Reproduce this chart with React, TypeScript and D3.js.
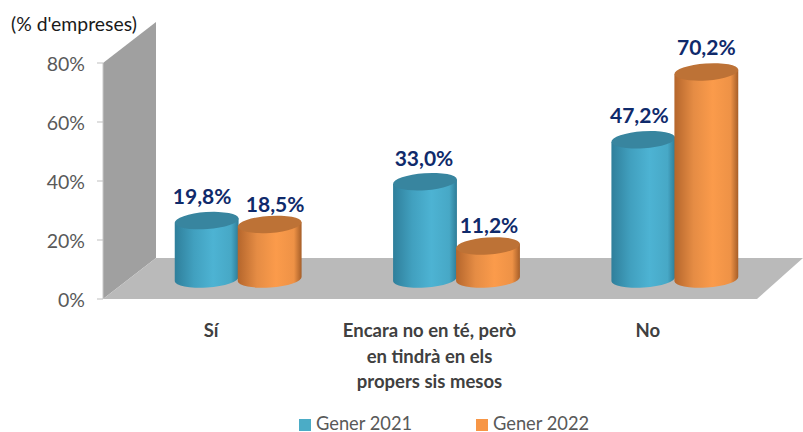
import React from "react";
import * as d3 from "d3";

const categories = ["Sí", "Encara no en té, però en tindrà en els propers sis mesos", "No"];
const categoryLines = [["Sí"], ["Encara no en té, però", "en tindrà en els", "propers sis mesos"], ["No"]];
const gener2021 = [19.8, 33.0, 47.2];
const gener2022 = [18.5, 11.2, 70.2];
const seriesNames = ["Gener 2021", "Gener 2022"];
const yTicks = [0, 20, 40, 60, 80];
const axisTitle = "(% d'empreses)";

const W = 803, H = 432;
const y = d3.scaleLinear().domain([0, 80]).range([299, 63]);
const x = d3.scaleBand<string>().domain(categories).range([102, 757]).paddingInner(0).paddingOuter(0);
const depthX = 53, depthY = 41;
const barShiftX = 27, barShiftY = -20;
const barW = 64, ry = 8.5, tilt = -4;
const font = "Lato, 'Open Sans', sans-serif";
const nudge2021 = [[-4.5, -1], [-1, 0], [-4, -1]];
const nudge2022 = [[5.5, 4], [1, 3], [0, -1]];

const fmt = (v: number) => v.toFixed(1).replace(".", ",") + "%";

function Cylinder({ cx, v, gid, top }: { cx: number; v: number; gid: string; top: string }) {
  const rx = barW / 2;
  const yt = y(v) + barShiftY;
  const yb = y(0) + barShiftY;
  const rad = (tilt * Math.PI) / 180;
  const ex = Math.cos(rad) * rx;
  const ey = Math.sin(rad) * rx;
  const d = `M${cx - ex},${yt - ey} L${cx - ex},${yb - ey} A${rx},${ry} ${tilt} 0 0 ${cx + ex},${yb + ey} L${cx + ex},${yt + ey} Z`;
  return (
    <g>
      <path d={d} fill={`url(#${gid})`} />
      <ellipse cx={cx} cy={yt} rx={rx} ry={ry} fill={top} transform={`rotate(${tilt} ${cx} ${yt})`} />
    </g>
  );
}

export default function App() {
  const floorY0 = y(0);
  const wall = `M${x.range()[0] + 1},${y(80)} L${x.range()[0] + 1 + depthX},${y(80) - depthY} L${x.range()[0] + 1 + depthX},${floorY0 - depthY} L${x.range()[0] + 1},${floorY0} Z`;
  const floor = `M${x.range()[0] + 1},${floorY0} L${x.range()[0] + 1 + depthX},${floorY0 - depthY} L${x.range()[1] + 46},${floorY0 - depthY} L${x.range()[1]},${floorY0} Z`;
  return (
    <svg width={W} height={H} style={{ position: "absolute", left: 0, top: 0 }} fontFamily={font}>
      <defs>
        <linearGradient id="blue" x1="0" x2="1" y1="0" y2="0">
          <stop offset="0" stopColor="#2f7f9b" />
          <stop offset="0.3" stopColor="#41a0bf" />
          <stop offset="0.6" stopColor="#4db3d3" />
          <stop offset="0.88" stopColor="#47a8c6" />
          <stop offset="1" stopColor="#2e7c97" />
        </linearGradient>
        <linearGradient id="orange" x1="0" x2="1" y1="0" y2="0">
          <stop offset="0" stopColor="#b5662c" />
          <stop offset="0.3" stopColor="#e58c44" />
          <stop offset="0.6" stopColor="#fb9b4b" />
          <stop offset="0.88" stopColor="#ee9246" />
          <stop offset="1" stopColor="#a65e28" />
        </linearGradient>
      </defs>
      <path d={wall} fill="#a0a0a0" />
      <path d={floor} fill="#bababa" />
      <line x1={103} x2={103} y1={y(80)} y2={y(0)} stroke="#c8c8c8" />
      {yTicks.map((t) => (
        <g key={t}>
          <line x1={97} x2={103} y1={y(t)} y2={y(t)} stroke="#bfbfbf" />
          <text x={85} y={y(t) + 1} dy="0.35em" textAnchor="end" fontSize={19.5} fill="#595959">{t}%</text>
        </g>
      ))}
      <text x={11} y={31} fontSize={19.4} fill="#1a1a1a">{axisTitle}</text>
      {categories.map((c, i) => {
        const cx = (x(c) as number) + x.bandwidth() / 2 + barShiftX;
        const x1 = cx - barW / 2 + 0.5;
        const x2 = cx + barW / 2 - 0.5;
        const labelY = (v: number) => y(v) + barShiftY - 16;
        return (
          <g key={c}>
            <Cylinder cx={x1} v={gener2021[i]} gid="blue" top="#38859f" />
            <Cylinder cx={x2} v={gener2022[i]} gid="orange" top="#bd7236" />
            <text x={x1 + nudge2021[i][0]} y={labelY(gener2021[i]) + nudge2021[i][1]} textAnchor="middle" fontSize={21} fontWeight={700} fill="#0f2a6b">{fmt(gener2021[i])}</text>
            <text x={x2 + nudge2022[i][0]} y={labelY(gener2022[i]) + nudge2022[i][1]} textAnchor="middle" fontSize={21} fontWeight={700} fill="#0f2a6b">{fmt(gener2022[i])}</text>
            {categoryLines[i].map((l, j) => (
              <text key={j} x={(x(c) as number) + x.bandwidth() / 2} y={337 + j * 25.5} textAnchor="middle" fontSize={18.5} fontWeight={700} fill="#404040">{l}</text>
            ))}
          </g>
        );
      })}
      {seriesNames.map((s, i) => (
        <g key={s} transform={`translate(${299 + i * 177},419)`}>
          <rect width={12} height={12} fill={i === 0 ? "#4bacc6" : "#f79646"} />
          <text x={17} y={11} fontSize={18.3} fill="#595959">{s}</text>
        </g>
      ))}
    </svg>
  );
}
